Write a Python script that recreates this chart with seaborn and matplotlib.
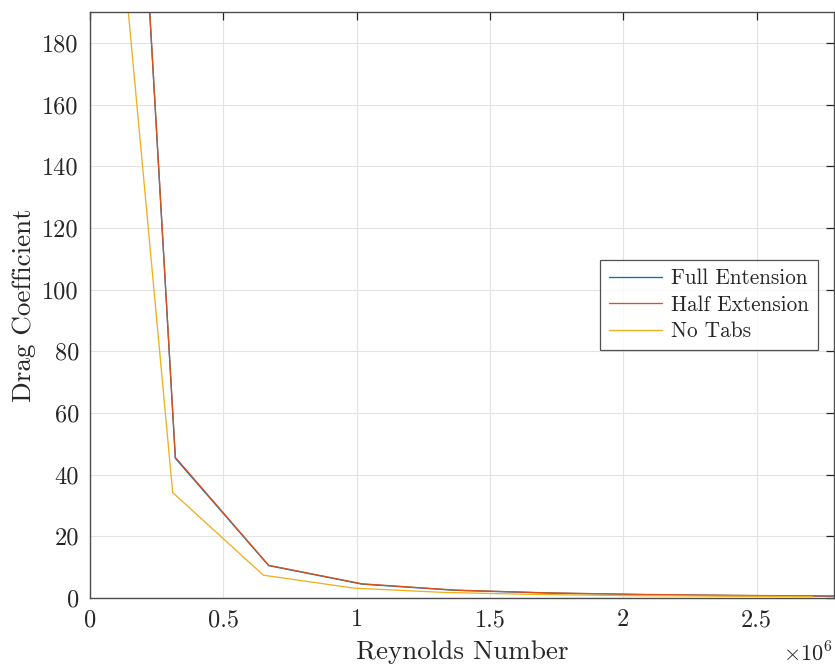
import matplotlib
matplotlib.use("Agg")
import matplotlib.pyplot as plt
import matplotlib.ticker as mticker
import numpy as np
import pandas as pd
import seaborn as sns

# Reynolds numbers and drag coefficients for each configuration
re_tabs = [0.12e6, 0.32e6, 0.67e6, 1.02e6, 1.37e6, 1.72e6, 2.07e6, 2.42e6, 2.79e6]
cd_full = [346.0, 45.3, 10.5, 4.5, 2.5, 1.6, 1.1, 0.8, 0.6]
cd_half = [347.0, 45.6, 10.6, 4.6, 2.55, 1.65, 1.15, 0.85, 0.65]

re_no_tabs = [0.116e6, 0.31e6, 0.65e6, 0.99e6, 1.33e6, 1.67e6, 2.01e6, 2.35e6, 2.71e6]
cd_no_tabs = [216.0, 34.2, 7.4, 3.2, 1.8, 1.15, 0.8, 0.6, 0.45]

series_names = ["Full Entension", "Half Extension", "No Tabs"]
series_colors = ["#0072BD", "#D95319", "#EDB120"]

x_ticks = [0, 0.5e6, 1.0e6, 1.5e6, 2.0e6, 2.5e6]
y_ticks = list(range(0, 181, 20))

df = pd.concat([
    pd.DataFrame({"Re": re_tabs, "Cd": cd_full, "config": series_names[0]}),
    pd.DataFrame({"Re": re_tabs, "Cd": cd_half, "config": series_names[1]}),
    pd.DataFrame({"Re": re_no_tabs, "Cd": cd_no_tabs, "config": series_names[2]}),
], ignore_index=True)

sns.set_style("white")
plt.rcParams["font.family"] = ["cmr10", "DejaVu Serif"]
plt.rcParams["mathtext.fontset"] = "cm"
plt.rcParams["axes.unicode_minus"] = False

fig = plt.figure(figsize=(8.35, 6.64), dpi=100)
ax = fig.add_axes([90 / 835, 1 - 598 / 664, 744 / 835, 586 / 664])

sns.lineplot(data=df, x="Re", y="Cd", hue="config", hue_order=series_names,
             palette=series_colors, estimator=None, sort=False,
             linewidth=0.95, ax=ax)

ax.set_xlim(0, 2.79e6)
ax.set_ylim(0, 190)
ax.set_xticks(x_ticks)
ax.set_yticks(y_ticks)
ax.xaxis.set_major_formatter(mticker.FuncFormatter(lambda v, p: f"{v / 1e6:g}"))
ax.yaxis.set_major_formatter(mticker.FuncFormatter(lambda v, p: f"{v:g}"))

ax.grid(True, color="#e3e3e3", linewidth=0.8)
ax.set_axisbelow(True)
for s in ax.spines.values():
    s.set_color("#4d4d4d")
    s.set_linewidth(1.0)
ax.tick_params(direction="in", length=6, width=0.9, color="#262626",
               top=True, right=True, labelsize=17.5, pad=8, labelcolor="#262626")

ax.set_xlabel("Reynolds Number", fontsize=19.5, color="#262626")
ax.set_ylabel("Drag Coefficient", fontsize=19.5, color="#262626")
ax.xaxis.set_label_coords(0.5, -0.072)
ax.yaxis.set_label_coords(-0.073, 0.5)

ax.text(0.998, -0.074, r"$\times10^{6}$", transform=ax.transAxes,
        ha="right", va="top", fontsize=16, color="#262626")

leg = ax.legend(loc="center right", bbox_to_anchor=(0.978, 0.5), fontsize=15.3,
                frameon=True, fancybox=False, edgecolor="#262626",
                handlelength=2.5, borderpad=0.4, labelspacing=0.32,
                handletextpad=0.45, borderaxespad=0)
leg.get_frame().set_linewidth(0.9)
leg.set_title(None)

fig.savefig("out.png", dpi=100)
